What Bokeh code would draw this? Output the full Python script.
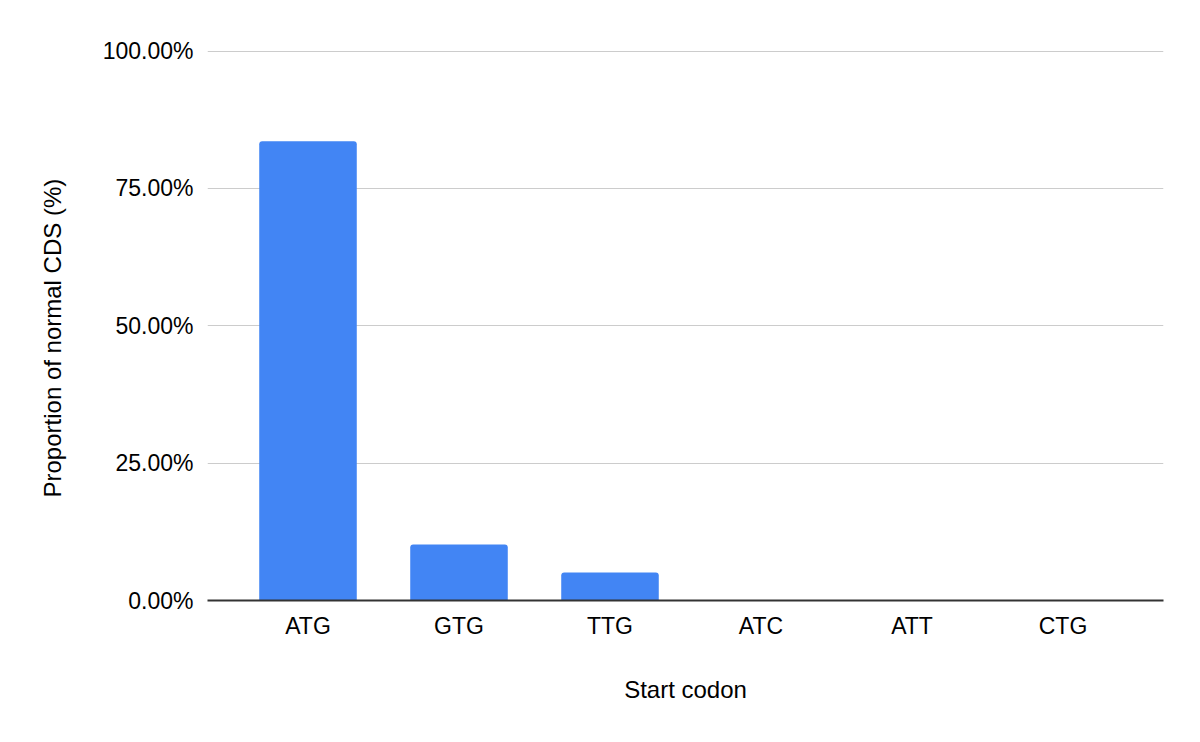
from bokeh.plotting import figure
from bokeh.models import ColumnDataSource, FactorRange, Range1d, FixedTicker, NumeralTickFormatter, Title
from bokeh.embed import file_html
from bokeh.resources import INLINE

codons = ["ATG", "GTG", "TTG", "ATC", "ATT", "CTG"]
proportions = [0.836, 0.102, 0.051, 0.0, 0.0, 0.0]
y_ticks = [0.0, 0.25, 0.5, 0.75, 1.0]

FONT = "Liberation Sans"
TEXT = "#000000"

src = ColumnDataSource(data=dict(codon=codons, value=proportions))

p = figure(
    x_range=FactorRange(*codons, range_padding=0.0552, range_padding_units="percent"),
    y_range=Range1d(0, 1.001),
    frame_width=956, frame_height=550,
    width=1200, height=742,
    min_border_left=207, min_border_right=37,
    min_border_top=50, min_border_bottom=142,
    output_backend="svg", toolbar_location=None,
)
p.vbar(x="codon", top="value", width=0.646, source=src,
       fill_color="#4285F4", line_color=None,
       border_radius=(3, 3, 0, 0))

p.outline_line_color = None
p.background_fill_color = "white"

p.xgrid.grid_line_color = None
p.ygrid.grid_line_color = "#cccccc"
p.ygrid.grid_line_width = 1

# y axis
p.yaxis.ticker = FixedTicker(ticks=y_ticks)
p.yaxis.formatter = NumeralTickFormatter(format="0.00%")
p.yaxis.axis_line_color = None
p.yaxis.major_tick_line_color = None
p.yaxis.minor_tick_line_color = None
p.yaxis.major_tick_out = 0
p.yaxis.major_tick_in = 0
p.yaxis.major_label_standoff = 14
p.yaxis.major_label_text_font = FONT
p.yaxis.major_label_text_font_size = "23px"
p.yaxis.major_label_text_color = TEXT

# x axis
p.xaxis.axis_line_color = "#333333"
p.xaxis.axis_line_width = 2
p.xaxis.major_tick_line_color = None
p.xaxis.minor_tick_line_color = None
p.xaxis.major_tick_out = 0
p.xaxis.major_tick_in = 0
p.xaxis.major_label_standoff = 12
p.xaxis.major_label_text_font = FONT
p.xaxis.major_label_text_font_size = "23px"
p.xaxis.major_label_text_color = TEXT
p.xaxis.axis_label = "Start codon"
p.xaxis.axis_label_text_font = FONT
p.xaxis.axis_label_text_font_size = "24px"
p.xaxis.axis_label_text_font_style = "normal"
p.xaxis.axis_label_text_color = TEXT
p.xaxis.axis_label_standoff = 34

ytitle = Title(text="Proportion of normal CDS (%)", align="left", offset=103,
               text_font=FONT, text_font_size="24px", text_font_style="normal",
               text_color=TEXT, standoff=68)
p.add_layout(ytitle, "left")

open("out.html", "w").write(file_html(p, INLINE))
